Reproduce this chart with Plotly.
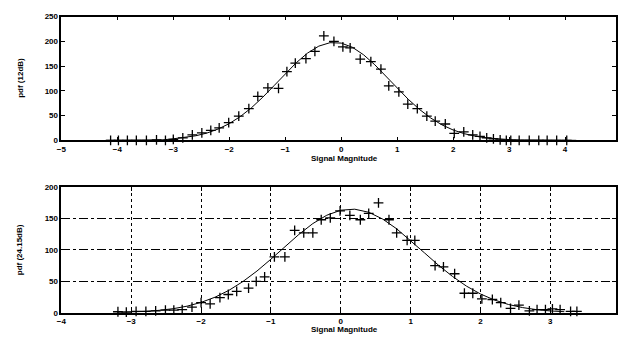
import plotly.graph_objects as go

# ---------------- data ----------------
# top panel (pdf 12dB): histogram points
top_pts_x = [-4.12, -3.98, -3.82, -3.66, -3.48, -3.30, -3.14, -3.00, -2.83, -2.66,
             -2.49, -2.33, -2.18, -2.01, -1.83, -1.65, -1.49, -1.31, -1.12, -0.97,
             -0.82, -0.63, -0.47, -0.31, -0.13, 0.03, 0.16, 0.34, 0.53, 0.71,
             0.85, 1.03, 1.19, 1.36, 1.53, 1.68, 1.86, 2.02, 2.19, 2.35,
             2.48, 2.60, 2.72, 2.84, 2.95, 3.03, 3.18, 3.36, 3.53, 3.68, 3.85, 4.03]
top_pts_y = [0, 0, 0, 0, 0, 1, 0, 2, 5, 11,
             15, 20, 25, 36, 49, 64, 89, 106, 105, 139,
             156, 165, 180, 211, 200, 189, 187, 164, 159, 144,
             110, 98, 73, 64, 49, 39, 33, 14, 17, 11,
             8, 5, 3, 1, 0, 0, 0, 0, 0, 0, 0, 0]
# top panel fitted curve
top_curve_x = [-4.2, -3.6, -3.2, -3.0, -2.8, -2.6, -2.4, -2.2, -2.0, -1.8, -1.6, -1.4,
               -1.2, -1.0, -0.8, -0.6, -0.4, -0.2, 0.0, 0.2, 0.4, 0.6, 0.8, 1.0,
               1.2, 1.4, 1.6, 1.8, 2.0, 2.2, 2.4, 2.6, 2.8, 3.0, 3.2, 3.6, 4.2]
top_curve_y = [0, 0.1, 0.8, 3.1, 5.5, 9.2, 14.7, 22.8, 33.8, 48.3, 66.2, 87.3,
               110.5, 134.5, 157.2, 176.5, 190.4, 197.4, 196.6, 188.1, 172.9, 152.8, 129.7, 105.8,
               82.8, 62.4, 45.1, 31.3, 20.9, 13.4, 8.3, 4.9, 2.8, 1.5, 0.8, 0.1, 0]

# bottom panel (pdf 24.15dB): histogram points
bot_pts_x = [-3.19, -3.07, -2.93, -2.79, -2.65, -2.51, -2.39, -2.27, -2.13, -2.00,
             -1.87, -1.73, -1.61, -1.49, -1.32, -1.21, -1.09, -0.95, -0.80, -0.66,
             -0.53, -0.40, -0.28, -0.15, -0.01, 0.13, 0.28, 0.40, 0.54, 0.69,
             0.80, 0.95, 1.06, 1.35, 1.47, 1.63, 1.77, 1.89, 2.02, 2.17,
             2.29, 2.43, 2.55, 2.70, 2.81, 2.93, 3.03, 3.14, 3.29, 3.38]
bot_pts_y = [1.5, 1, 2, 2, 3, 4, 4, 5, 9, 16,
             14, 24, 29, 34, 39, 50, 57, 89, 89, 131,
             127, 127, 148, 151, 162, 155, 148, 158, 175, 148,
             127, 115, 115, 75, 73, 62, 31, 31, 22, 21,
             16, 7, 12, 3, 5, 5, 6, 5, 2, 2]
# bottom panel fitted curve
bot_curve_x = [-3.2, -3.0, -2.8, -2.6, -2.4, -2.2, -2.0, -1.8, -1.6, -1.4, -1.2, -1.0,
               -0.8, -0.6, -0.4, -0.2, 0.0, 0.2, 0.4, 0.6, 0.8, 1.0, 1.2, 1.4,
               1.6, 1.8, 2.0, 2.2, 2.4, 2.6, 2.8, 3.0, 3.2]
bot_curve_y = [0.7, 1.2, 2.1, 3.8, 6.4, 10.4, 16.4, 24.7, 35.7, 49.7, 66.3, 85.2,
               105.1, 124.6, 141.9, 155.2, 163.2, 164.8, 159.9, 149.1, 133.6, 115.0, 95.1, 75.5,
               57.7, 42.3, 29.8, 20.2, 13.1, 8.2, 4.9, 2.8, 1.6]

top_xticks = [-5, -4, -3, -2, -1, 0, 1, 2, 3, 4]
top_yticks = [0, 50, 100, 150, 200, 250]
bot_xticks = [-4, -3, -2, -1, 0, 1, 2, 3]
bot_yticks = [0, 50, 100, 150, 200]

top_ylabel = "pdf (12dB)"
bot_ylabel = "pdf (24.15dB)"
xlabel = "Signal Magnitude"

# ---------------- figure ----------------
W, H = 618, 344
fig = go.Figure()

marker = dict(symbol="cross-thin", size=7, color="black", line=dict(color="black", width=1.3))

fig.add_trace(go.Scatter(x=top_curve_x, y=top_curve_y, mode="lines",
                         line=dict(color="black", width=1), xaxis="x", yaxis="y"))
fig.add_trace(go.Scatter(x=top_pts_x, y=top_pts_y, mode="markers", marker=marker,
                         xaxis="x", yaxis="y", cliponaxis=False))
fig.add_trace(go.Scatter(x=bot_curve_x, y=bot_curve_y, mode="lines",
                         line=dict(color="black", width=1), xaxis="x2", yaxis="y2"))
fig.add_trace(go.Scatter(x=bot_pts_x, y=bot_pts_y, mode="markers", marker=marker,
                         xaxis="x2", yaxis="y2", cliponaxis=False))

tickfont = dict(family="Liberation Sans", size=8, color="black", weight="bold")
left = 57 / W


def pdom(top_px, bot_px):
    return [(H - bot_px) / H, (H - top_px) / H]


common_axis = dict(showline=True, linecolor="black", linewidth=1.5, mirror="ticks",
                   ticks="inside", ticklen=4, tickwidth=1.2, tickcolor="black",
                   tickfont=tickfont, zeroline=False)

fig.update_layout(
    width=W, height=H,
    margin=dict(l=0, r=0, t=0, b=0),
    paper_bgcolor="white", plot_bgcolor="white",
    showlegend=False,
    xaxis=dict(domain=[left, 1], range=[-5, 4.91], tickvals=top_xticks,
               anchor="y", showgrid=False, **common_axis),
    yaxis=dict(domain=pdom(13, 140), range=[0, 250], tickvals=top_yticks,
               anchor="x", showgrid=False, **common_axis),
    xaxis2=dict(domain=[left, 1], range=[-4, 3.94], tickvals=bot_xticks,
                anchor="y2", showgrid=True, gridcolor="black", gridwidth=1,
                griddash="dot", **common_axis),
    yaxis2=dict(domain=pdom(188, 317), range=[0, 200], tickvals=bot_yticks,
                anchor="x2", showgrid=True, gridcolor="black", gridwidth=1,
                griddash="dashdot", **common_axis),
)

labfont = dict(family="Liberation Sans", size=8, color="black", weight="bold")
fig.add_annotation(text=top_ylabel, xref="paper", yref="paper", x=15 / W, y=(H - 76) / H,
                   textangle=-90, showarrow=False, font=labfont, xanchor="center", yanchor="middle")
fig.add_annotation(text=bot_ylabel, xref="paper", yref="paper", x=15 / W, y=(H - 252) / H,
                   textangle=-90, showarrow=False, font=labfont, xanchor="center", yanchor="middle")
fig.add_annotation(text=xlabel, xref="paper", yref="paper", x=343 / W, y=(H - 159) / H,
                   showarrow=False, font=labfont, xanchor="center", yanchor="middle")
fig.add_annotation(text=xlabel, xref="paper", yref="paper", x=343 / W, y=(H - 334) / H,
                   showarrow=False, font=labfont, xanchor="center", yanchor="middle")

fig.write_html("out.html")
